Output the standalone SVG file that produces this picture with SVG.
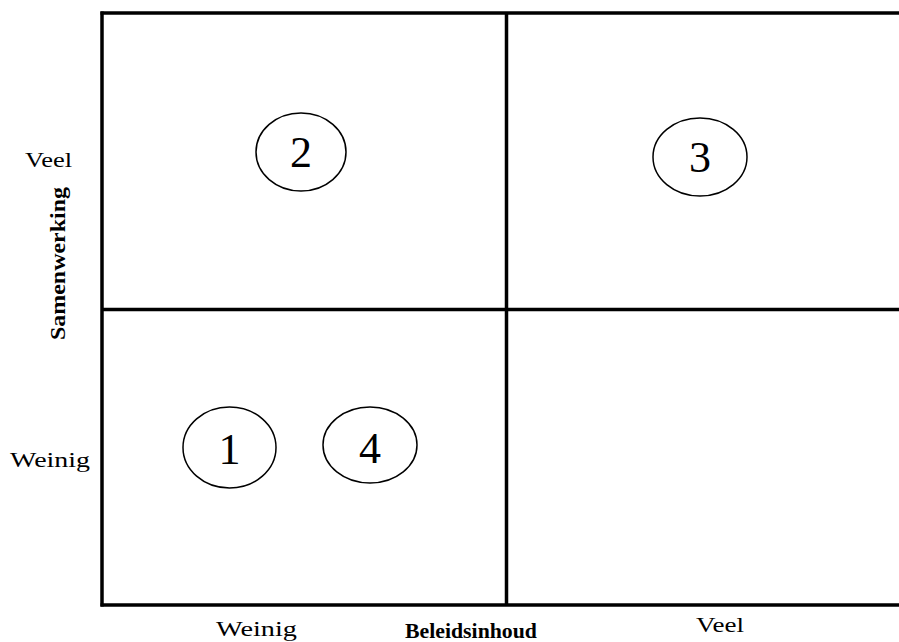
<svg xmlns="http://www.w3.org/2000/svg" width="899" height="642" viewBox="0 0 899 642">
<style>
.ln{stroke:#000;stroke-width:3.5;fill:none}
.el{stroke:#000;stroke-width:1.5;fill:#fff}
.num{font-family:"Liberation Serif",serif;font-size:44px;text-anchor:middle;fill:#000}
.lbl{font-family:"Liberation Serif",serif;font-size:21px;fill:#000}
.bold{font-weight:bold}
</style>
<rect width="899" height="642" fill="#fff"/>
<g id="grid">
<line class="ln" x1="100.5" y1="13" x2="899" y2="13"/>
<line class="ln" x1="102" y1="11.5" x2="102" y2="606.5"/>
<line class="ln" x1="506.5" y1="13" x2="506.5" y2="605"/>
<line class="ln" x1="102" y1="309.5" x2="899" y2="309.5"/>
<line class="ln" x1="100.5" y1="605" x2="899" y2="605"/>
</g>
<g id="node2"><ellipse class="el" cx="301" cy="152" rx="45" ry="39"/><text class="num" x="301" y="167">2</text></g>
<g id="node3"><ellipse class="el" cx="700" cy="157" rx="47" ry="39"/><text class="num" x="700" y="172">3</text></g>
<g id="node1"><ellipse class="el" cx="229.5" cy="447.5" rx="46.5" ry="40.5"/><text class="num" x="229.5" y="464">1</text></g>
<g id="node4"><ellipse class="el" cx="370" cy="445" rx="47" ry="38"/><text class="num" x="370" y="463">4</text></g>
<g id="labels">
<text class="lbl" x="25" y="167" textLength="47" lengthAdjust="spacingAndGlyphs">Veel</text>
<text class="lbl" x="10" y="467" textLength="80" lengthAdjust="spacingAndGlyphs">Weinig</text>
<text class="lbl" x="216" y="636" textLength="81" lengthAdjust="spacingAndGlyphs">Weinig</text>
<text class="lbl bold" x="405" y="638" textLength="132" lengthAdjust="spacingAndGlyphs">Beleidsinhoud</text>
<text class="lbl" x="696" y="632" textLength="48" lengthAdjust="spacingAndGlyphs">Veel</text>
<text class="lbl bold" transform="translate(65,340) rotate(-90)" x="0" y="0" font-size="22" textLength="153" lengthAdjust="spacingAndGlyphs">Samenwerking</text>
</g>
</svg>
